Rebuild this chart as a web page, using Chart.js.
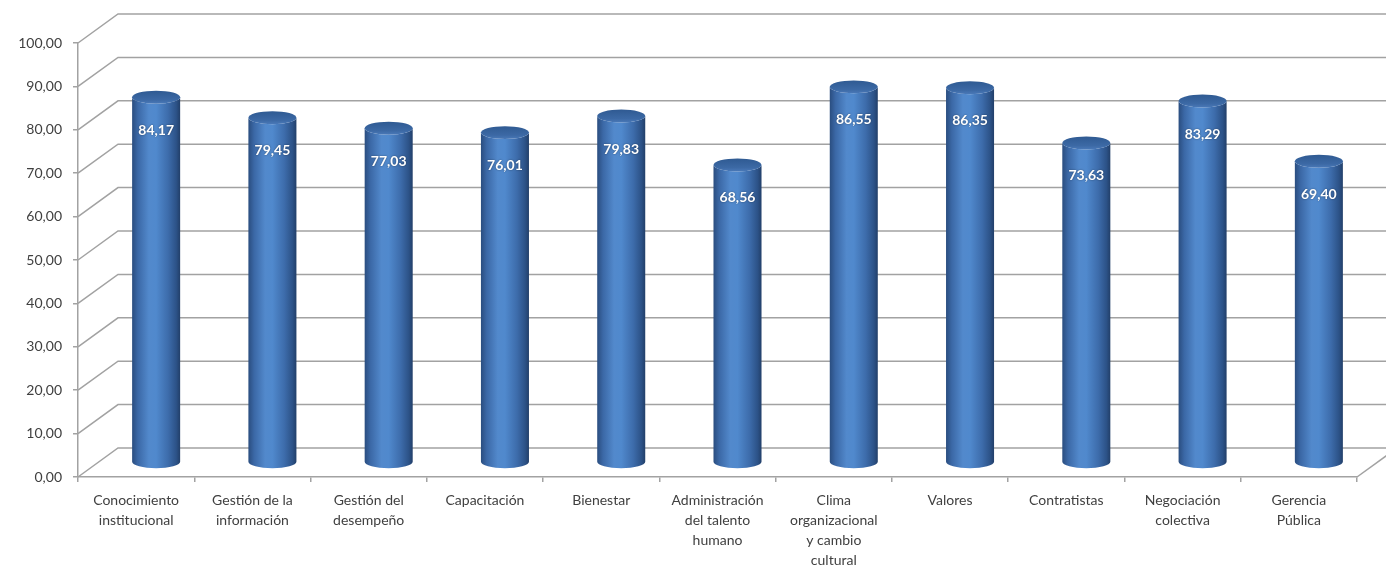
<!DOCTYPE html>
<html>
<head>
<meta charset="utf-8">
<script src="https://cdn.jsdelivr.net/npm/chart.js@4.4.1/dist/chart.umd.min.js"></script>
<style>
  html, body { margin: 0; padding: 0; background: #ffffff; }
  #wrap { width: 1386px; height: 569px; position: relative; }
</style>
</head>
<body>
<div id="wrap"><canvas id="c" width="1386" height="569"></canvas></div>
<script>
// Categories (multi-line labels), scores and value-axis ticks
const categories = [
  ["Conocimiento", "institucional"],
  ["Gestión de la", "información"],
  ["Gestión del", "desempeño"],
  ["Capacitación"],
  ["Bienestar"],
  ["Administración", "del talento", "humano"],
  ["Clima", "organizacional", "y cambio", "cultural"],
  ["Valores"],
  ["Contratistas"],
  ["Negociación", "colectiva"],
  ["Gerencia", "Pública"]
];
const scores = [84.17, 79.45, 77.03, 76.01, 79.83, 68.56, 86.55, 86.35, 73.63, 83.29, 69.40];
const yTicks = [0, 10, 20, 30, 40, 50, 60, 70, 80, 90, 100];

// Number format with decimal comma, two decimals
const fmt = v => v.toFixed(2).replace('.', ',');

// Depth of the pseudo-3D box (back wall offset from the front plane)
const DEPTH_X = 40;
const DEPTH_Y = -29;
const GRID = '#a2a2a2';
const FONT = "Lato, 'Open Sans', sans-serif";

const box3d = {
  id: 'box3d',
  beforeDatasetsDraw(chart) {
    const { ctx, chartArea: a } = chart;
    const ys = chart.scales.y;
    ctx.save();
    ctx.strokeStyle = GRID;
    ctx.lineWidth = 1.5;
    yTicks.forEach(v => {
      const y = ys.getPixelForValue(v);
      ctx.beginPath();
      ctx.moveTo(a.left, y);
      ctx.lineTo(a.left + DEPTH_X, y + DEPTH_Y);
      ctx.lineTo(a.right + DEPTH_X, y + DEPTH_Y);
      ctx.stroke();
    });
    // floor, right edge
    const y0 = ys.getPixelForValue(0);
    ctx.beginPath();
    ctx.moveTo(a.right, y0);
    ctx.lineTo(a.right + DEPTH_X, y0 + DEPTH_Y);
    ctx.stroke();
    ctx.restore();
  },
  afterDatasetsDraw(chart) {
    const { ctx } = chart;
    const meta = chart.getDatasetMeta(0);
    ctx.save();
    meta.data.forEach((bar, i) => {
      const rx = bar.width / 2;
      const ry = rx * 0.27;
      const cx = bar.x + DEPTH_X / 2;
      const yb = bar.base + DEPTH_Y / 2;
      const yt = bar.y + DEPTH_Y / 2;

      // cylinder body
      const g = ctx.createLinearGradient(cx - rx, 0, cx + rx, 0);
      g.addColorStop(0.00, '#2a4d7f');
      g.addColorStop(0.12, '#3b68a6');
      g.addColorStop(0.35, '#5289cc');
      g.addColorStop(0.50, '#5089cd');
      g.addColorStop(0.75, '#3d6cab');
      g.addColorStop(0.92, '#2c5287');
      g.addColorStop(1.00, '#223f69');
      ctx.beginPath();
      ctx.moveTo(cx - rx, yt);
      ctx.lineTo(cx - rx, yb);
      ctx.ellipse(cx, yb, rx, ry, 0, Math.PI, 0, true);
      ctx.lineTo(cx + rx, yt);
      ctx.ellipse(cx, yt, rx, ry, 0, 0, Math.PI, false);
      ctx.closePath();
      ctx.fillStyle = g;
      ctx.fill();

      // cylinder top
      const gt = ctx.createLinearGradient(0, yt - ry, 0, yt + ry);
      gt.addColorStop(0, '#2f5a92');
      gt.addColorStop(0.7, '#3c69a5');
      gt.addColorStop(1, '#4a79b8');
      ctx.beginPath();
      ctx.ellipse(cx, yt, rx, ry, 0, 0, Math.PI * 2);
      ctx.fillStyle = gt;
      ctx.fill();

      // value label
      ctx.font = 'bold 14px ' + FONT;
      ctx.textAlign = 'center';
      ctx.textBaseline = 'middle';
      ctx.shadowColor = 'rgba(0,0,0,0.45)';
      ctx.shadowBlur = 2;
      ctx.fillStyle = '#ffffff';
      ctx.fillText(fmt(scores[i]), cx, yt + 33);
      ctx.shadowColor = 'transparent';
      ctx.shadowBlur = 0;
    });
    ctx.restore();
  }
};

new Chart(document.getElementById('c'), {
  type: 'bar',
  data: {
    labels: categories,
    datasets: [{
      data: scores,
      backgroundColor: 'rgba(0,0,0,0)',
      borderWidth: 0,
      categoryPercentage: 1,
      barPercentage: 0.413
    }]
  },
  options: {
    responsive: false,
    animation: false,
    devicePixelRatio: 1,
    layout: { padding: { top: 43, right: 29, left: 0, bottom: 0 } },
    plugins: { legend: { display: false }, tooltip: { enabled: false } },
    scales: {
      y: {
        min: 0,
        max: 100,
        afterFit: s => { s.width = 78; },
        afterBuildTicks: s => { s.ticks = yTicks.map(v => ({ value: v })); },
        ticks: {
          callback: v => fmt(v),
          color: '#404040',
          font: { family: FONT, size: 14 },
          padding: 11
        },
        grid: { drawOnChartArea: false, drawTicks: true, tickLength: 5, color: GRID, lineWidth: 1.5 },
        border: { display: true, color: GRID, width: 1.5 }
      },
      x: {
        afterFit: s => { s.height = 92; },
        ticks: {
          color: '#404040',
          font: { family: FONT, size: 14, lineHeight: 1.43 },
          maxRotation: 0,
          minRotation: 0,
          autoSkip: false,
          padding: 8
        },
        grid: { drawOnChartArea: false, drawTicks: true, tickLength: 5, color: GRID, lineWidth: 1.5, offset: true },
        border: { display: true, color: GRID, width: 1.5 }
      }
    }
  },
  plugins: [box3d]
});
</script>
</body>
</html>
